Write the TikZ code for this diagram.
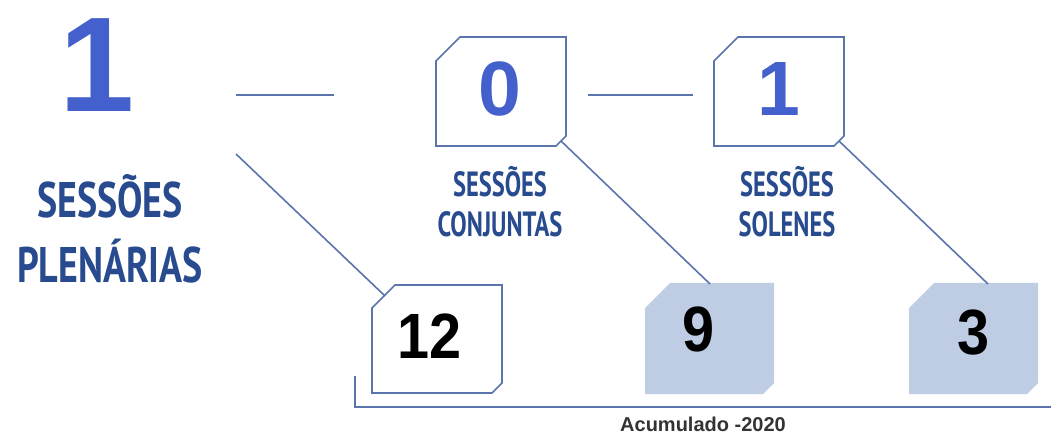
\documentclass[tikz,border=0pt]{standalone}
\usepackage{fontspec}
\setmainfont{Liberation Sans}
\newfontfamily\cond[FakeStretch=0.70]{PT Sans}
\newfontfamily\condlarg[FakeStretch=0.76]{PT Sans}
\newfontfamily\estreito[FakeStretch=0.9]{Liberation Sans}
\definecolor{azul}{RGB}{68,96,204}
\definecolor{azulesc}{RGB}{40,74,142}
\definecolor{traco}{RGB}{92,116,172}
\definecolor{preench}{RGB}{190,205,227}
\definecolor{cinza}{RGB}{51,51,51}
\tikzset{
  linha/.style={traco,line width=1.6pt},
  caixa/.style={traco,line width=1.6pt},
  caixacheia/.style={fill=preench,draw=none},
  numazul/.style={azul,anchor=base,font=\bfseries\fontsize{77}{77}\selectfont},
  numpreto/.style={black,anchor=base,font=\estreito\bfseries\fontsize{64}{64}\selectfont},
  rotulo/.style={azulesc,align=center,anchor=base,font=\cond\bfseries\fontsize{35}{40}\selectfont}
}
\begin{document}
\begin{tikzpicture}[x=1pt,y=-1pt]
\useasboundingbox (0,0) rectangle (1051,435);
% total de sessoes
\node [azul,anchor=base,font=\bfseries\fontsize{135}{135}\selectfont] (total) at (97,112) {1};
\node [rotulo,font=\condlarg\bfseries\fontsize{50}{65}\selectfont] (plen) at (110,283) {SESSÕES\\PLENÁRIAS};
\coordinate (h1) at (236,95);
\coordinate (h2) at (334,95);
\coordinate (d1) at (236,154);
\draw [linha] (h1) -- (h2);
% caixas de cima
\draw [caixa] (436,61) -- (460,37) -- (566,37) -- (566,136) -- (556,146) -- (436,146) -- cycle;
\draw [caixa] (714,61) -- (738,37) -- (844,37) -- (844,136) -- (834,146) -- (714,146) -- cycle;
\coordinate (c0) at (561,141);
\coordinate (c1) at (839,141);
\node [numazul] (zero) at (500,116) {0};
\node [numazul] (um) at (779,116) {1};
\coordinate (h3) at (588,95);
\coordinate (h4) at (693,95);
\draw [linha] (h3) -- (h4);
\node [rotulo] (conj) at (500,237) {SESSÕES\\CONJUNTAS};
\node [rotulo] (sol) at (787,237) {SESSÕES\\SOLENES};
% caixas de baixo
\draw [caixa] (372,308) -- (395,285) -- (502,285) -- (502,383) -- (492,393) -- (372,393) -- cycle;
\fill [caixacheia] (645,308) -- (670,283) -- (774,283) -- (774,383) -- (763,394) -- (645,394) -- cycle;
\fill [caixacheia] (909,308) -- (934,283) -- (1038,283) -- (1038,383) -- (1027,394) -- (909,394) -- cycle;
\coordinate (b12) at (385,296);
\coordinate (b9) at (710,284);
\coordinate (b3) at (988,284);
\node [numpreto] (doze) at (430,358) {12};
\node [numpreto] (nove) at (699,351) {9};
\node [numpreto] (tres) at (974,354) {3};
\draw [linha] (d1) -- (b12);
\draw [linha] (c0) -- (b9);
\draw [linha] (c1) -- (b3);
% acumulado
\coordinate (k1) at (355,376);
\coordinate (k2) at (355,407);
\coordinate (k3) at (1051,407);
\draw [linha] (k1) -- (k2) -- (k3);
\node [cinza,anchor=base,font=\bfseries\fontsize{20}{20}\selectfont] (acum) at (703,431) {Acumulado -2020};
\end{tikzpicture}
\end{document}
